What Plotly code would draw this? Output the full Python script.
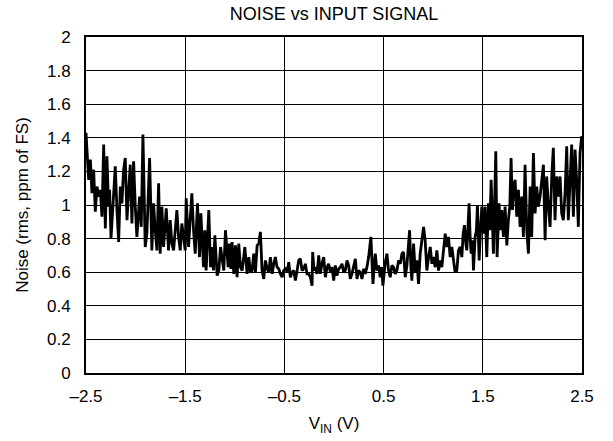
import plotly.graph_objects as go

vin = [
 -2.500,-2.490,-2.473,-2.456,-2.440,-2.423,-2.406,-2.389,-2.372,-2.356,-2.339,-2.322,-2.305,-2.289,-2.272,-2.262,-2.248,-2.221,-2.205,-2.188,
 -2.171,-2.154,-2.138,-2.121,-2.104,-2.087,-2.070,-2.054,-2.037,-2.020,-2.003,-1.987,-1.960,-1.943,-1.926,-1.903,-1.886,-1.859,-1.836,-1.819,
 -1.802,-1.785,-1.768,-1.752,-1.735,-1.718,-1.691,-1.668,-1.651,-1.634,-1.617,-1.601,-1.584,-1.567,-1.550,-1.534,-1.517,-1.500,-1.490,-1.466,
 -1.450,-1.433,-1.416,-1.399,-1.376,-1.356,-1.342,-1.329,-1.315,-1.302,-1.289,
 -1.279,-1.262,-1.245,-1.228,-1.215,-1.201,-1.178,-1.161,-1.144,-1.128,-1.111,-1.094,-1.077,-1.067,-1.054,-1.040,-1.027,-1.010,-0.993,-0.977,
 -0.960,-0.943,-0.926,-0.899,-0.876,-0.859,-0.842,-0.826,-0.809,-0.792,-0.775,-0.758,-0.742,-0.725,-0.708,-0.691,-0.674,-0.658,-0.641,-0.624,
 -0.607,-0.591,-0.574,-0.557,-0.540,-0.523,-0.507,-0.490,-0.473,-0.456,-0.440,-0.423,-0.406,-0.389,-0.372,-0.356,-0.339,-0.322,-0.305,-0.289,
 -0.272,-0.255,-0.238,-0.221,-0.215,-0.201,-0.188,-0.171,-0.154,-0.138,-0.121,-0.104,-0.087,-0.070,-0.054,-0.037,-0.020,-0.003,
 0.013,0.030,0.047,0.064,0.081,0.097,0.114,0.131,0.148,0.164,0.181,0.198,0.215,0.232,0.248,0.265,0.282,0.299,0.315,0.332,
 0.349,0.372,0.393,0.406,0.416,0.433,0.450,0.466,0.480,0.493,0.517,0.534,0.550,0.567,0.584,0.601,0.617,0.634,0.651,0.668,
 0.685,0.701,0.718,0.735,0.748,0.762,0.775,0.785,0.802,0.819,0.836,0.852,0.869,0.889,0.903,0.919,0.936,0.953,0.970,0.987,
 1.003,1.020,1.037,1.054,1.070,1.087,1.104,1.121,1.138,1.154,1.171,1.188,1.205,1.221,
 1.238,1.255,1.272,1.289,1.302,1.315,1.329,1.339,1.349,1.362,1.372,1.383,1.396,1.406,1.423,1.436,1.446,1.463,1.477,1.490,
 1.507,1.523,1.540,1.557,1.570,1.584,1.597,1.607,1.631,1.644,1.664,1.678,1.691,1.708,1.725,1.742,1.758,1.772,1.785,1.799,
 1.812,1.826,1.842,1.859,1.876,1.893,1.909,1.926,1.943,1.960,1.977,1.993,2.010,2.027,2.044,2.060,2.077,2.094,2.111,2.128,
 2.144,2.161,2.178,2.195,2.211,2.228,2.245,2.262,2.279,2.295,2.312,2.329,2.346,2.362,2.379,2.396,2.413,2.430,2.446,2.463,
 2.480,2.497,
]

noise = [
 1.43,1.31,1.15,1.27,1.07,1.21,0.96,1.11,1.05,1.09,0.93,1.36,0.86,1.29,0.99,1.09,0.80,1.07,1.23,0.97,
 0.78,1.11,1.01,1.21,1.28,0.91,1.11,1.24,0.89,1.26,0.99,0.81,1.05,0.87,1.42,0.75,0.83,1.28,0.73,1.01,
 0.85,0.73,1.13,0.71,0.99,0.75,0.98,0.73,0.91,0.77,0.73,0.87,0.97,0.81,0.73,0.89,0.79,0.73,1.04,0.75,
 0.91,1.07,0.85,0.71,1.01,0.69,0.95,0.75,0.63,0.85,0.61,
 0.75,0.97,0.63,0.75,0.61,0.82,0.58,0.61,0.75,0.69,0.61,0.85,0.73,0.63,0.77,0.62,0.78,0.59,0.76,0.57,
 0.77,0.63,0.61,0.75,0.59,0.69,0.60,0.61,0.71,0.60,0.76,0.77,0.84,0.61,0.56,0.67,0.62,0.60,0.69,0.59,
 0.65,0.69,0.63,0.62,0.59,0.57,0.61,0.62,0.60,0.66,0.57,0.60,0.61,0.55,0.61,0.67,0.68,0.61,0.62,0.65,
 0.59,0.59,0.57,0.52,0.72,0.61,0.63,0.59,0.70,0.59,0.65,0.69,0.57,0.63,0.65,0.60,0.63,0.55,
 0.64,0.58,0.62,0.63,0.65,0.60,0.61,0.67,0.64,0.56,0.59,0.63,0.68,0.56,0.61,0.60,0.56,0.62,0.59,0.63,
 0.69,0.81,0.53,0.65,0.71,0.61,0.64,0.57,0.63,0.52,0.66,0.71,0.61,0.57,0.64,0.63,0.59,0.61,0.67,0.65,
 0.71,0.72,0.57,0.64,0.75,0.85,0.63,0.55,0.77,0.60,0.67,0.53,0.71,0.79,0.87,0.79,0.61,0.69,0.75,0.65,
 0.69,0.63,0.73,0.61,0.67,0.63,0.75,0.83,0.75,0.81,0.69,0.75,0.67,0.60,
 0.61,0.73,0.75,0.69,0.83,0.88,0.77,0.73,0.85,1.01,0.81,0.71,0.79,0.61,0.81,0.85,1.00,0.67,0.85,0.99,
 0.83,0.99,0.69,1.01,0.85,1.15,0.91,0.71,1.32,0.69,1.01,0.85,0.97,0.81,0.99,0.76,0.91,0.99,1.28,0.97,
 1.11,1.15,0.93,1.09,0.87,1.05,0.81,1.24,0.85,0.71,1.11,0.81,1.31,0.95,1.11,0.99,1.05,1.13,1.24,0.79,
 1.17,0.99,0.87,1.17,1.34,0.91,1.17,1.05,1.17,0.95,0.91,1.07,1.35,0.91,1.17,1.36,0.93,1.33,1.15,0.87,
 1.31,1.41,
]

x_tickvals = [-2.5, -1.5, -0.5, 0.5, 1.5, 2.5]
x_ticktext = ["\u20132.5", "\u20131.5", "\u20130.5", "0.5", "1.5", "2.5"]
y_tickvals = [0, 0.2, 0.4, 0.6, 0.8, 1.0, 1.2, 1.4, 1.6, 1.8, 2.0]
y_ticktext = ["0", "0.2", "0.4", "0.6", "0.8", "1", "1.2", "1.4", "1.6", "1.8", "2"]

fig = go.Figure()
fig.add_trace(go.Scatter(x=vin, y=noise, mode="lines",
                         line=dict(color="black", width=2.8), showlegend=False))

font = dict(family="Liberation Sans, Arial, sans-serif", size=17, color="black")

fig.update_layout(
    width=613, height=441,
    margin=dict(l=86, r=31, t=37, b=68),
    paper_bgcolor="white", plot_bgcolor="white",
    font=font,
    title=dict(text="NOISE vs INPUT SIGNAL", x=(86 + 582) / 2 / 613, xanchor="center",
               y=1 - 14 / 441, yanchor="middle", font=dict(size=18)),
)
fig.update_xaxes(range=[-2.5, 2.5], tickmode="array", tickvals=x_tickvals, ticktext=x_ticktext,
                 showgrid=True, gridcolor="black", gridwidth=1,
                 showline=True, linecolor="black", linewidth=2, mirror=True,
                 ticks="", ticklabelstandoff=7, zeroline=False,
                 title=dict(text="V<sub>IN</sub> (V)", standoff=12, font=dict(size=17)))
fig.update_yaxes(range=[0, 2], tickmode="array", tickvals=y_tickvals, ticktext=y_ticktext,
                 showgrid=True, gridcolor="black", gridwidth=1,
                 showline=True, linecolor="black", linewidth=2, mirror=True,
                 ticks="", ticklabelstandoff=10, zeroline=False,
                 title=dict(text="Noise (rms, ppm of FS)", standoff=14, font=dict(size=17)))

fig.write_html("out.html", post_script="document.body.style.margin='0';",
               config={"displayModeBar": False})
